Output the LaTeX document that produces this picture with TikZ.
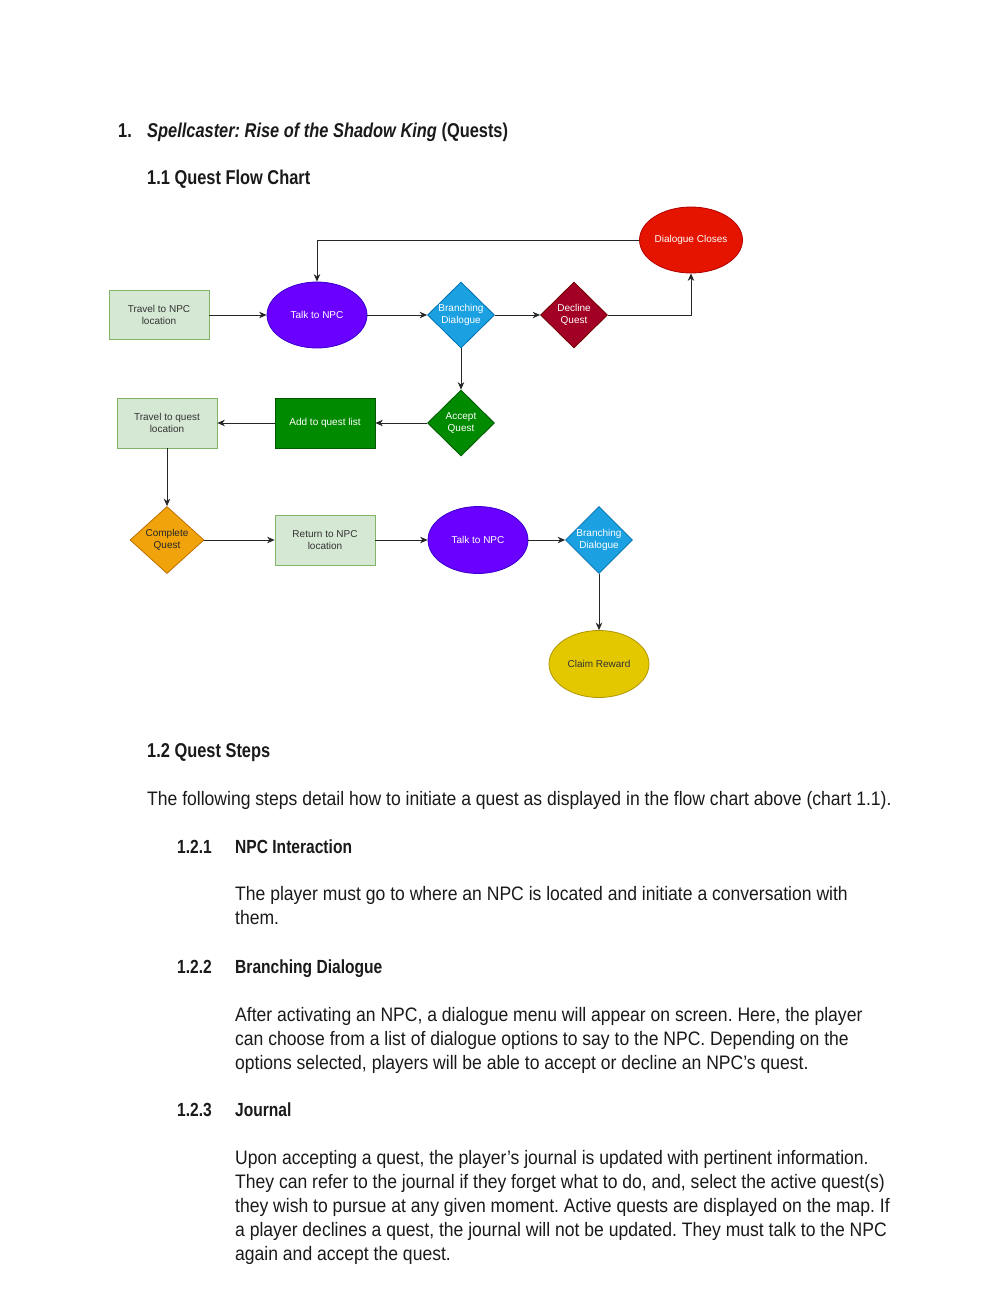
\documentclass[tikz,border=0pt]{standalone}
\usepackage{fontspec}
\setmainfont{Liberation Sans}[FakeStretch=0.82]
\newfontfamily\bodyfont{Liberation Sans}[FakeStretch=0.9]
\newfontfamily\nodefont{Liberation Sans}
\usetikzlibrary{shapes.geometric,arrows.meta}
\definecolor{lgfill}{HTML}{D5E8D4}
\definecolor{lgline}{HTML}{82B366}
\definecolor{purfill}{HTML}{6A00FF}
\definecolor{purline}{HTML}{3700CC}
\definecolor{bluefill}{HTML}{1BA1E2}
\definecolor{blueline}{HTML}{006EAF}
\definecolor{redfill}{HTML}{A20025}
\definecolor{redline}{HTML}{6F0000}
\definecolor{brfill}{HTML}{E51400}
\definecolor{brline}{HTML}{B20000}
\definecolor{grfill}{HTML}{008A00}
\definecolor{grline}{HTML}{005700}
\definecolor{amfill}{HTML}{F0A30A}
\definecolor{amline}{HTML}{BD7000}
\definecolor{yefill}{HTML}{E3C800}
\definecolor{yeline}{HTML}{B09500}
\definecolor{txt}{HTML}{1A1A1A}
\frenchspacing
\tikzset{
  nd/.style={inner sep=0pt, font=\nodefont\fontsize{10}{12}\selectfont, align=center, line width=0.8pt},
  lbox/.style={nd, rectangle, minimum width=100pt, minimum height=49pt, fill=lgfill, draw=lgline, text=black!80},
  ell/.style={nd, ellipse, minimum width=100pt, minimum height=66pt},
  dia/.style={nd, diamond, minimum width=67pt, minimum height=66pt},
  arr/.style={draw=black!85, line width=0.8pt, -{Stealth[length=7.5pt,width=6.5pt]}},
  hd/.style={anchor=base west, inner sep=0pt, font=\bfseries\fontsize{20}{24}\selectfont, text=txt},
  hdb/.style={hd, font=\bfseries\fontsize{19}{24}\selectfont},
  bd/.style={anchor=base west, inner sep=0pt, font=\bodyfont\fontsize{19.5}{24}\selectfont\frenchspacing, text=txt}
}
\begin{document}
\begin{tikzpicture}[x=1pt,y=-1pt]
\useasboundingbox[fill=white] (0,0) rectangle (1000,1294);

% headings and text
\node[hd] (title) at (118,137) {\makebox[29pt][l]{1.}\textit{Spellcaster: Rise of the Shadow King} (Quests)};
\node[hd] (h11) at (147,184) {1.1 Quest Flow Chart};
\node[hd] (h12) at (147,757) {1.2 Quest Steps};
\node[bd] (p0) at (147,805) {The following steps detail how to initiate a quest as displayed in the flow chart above (chart 1.1).};
\node[hdb] (h121) at (177,853) {\makebox[58pt][l]{1.2.1}NPC Interaction};
\node[bd] (p1a) at (235,900) {The player must go to where an NPC is located and initiate a conversation with};
\node[bd] (p1b) at (235,924) {them.};
\node[hdb] (h122) at (177,973) {\makebox[58pt][l]{1.2.2}Branching Dialogue};
\node[bd] (p2a) at (235,1021) {After activating an NPC, a dialogue menu will appear on screen. Here, the player};
\node[bd] (p2b) at (235,1045) {can choose from a list of dialogue options to say to the NPC. Depending on the};
\node[bd] (p2c) at (235,1069) {options selected, players will be able to accept or decline an NPC’s quest.};
\node[hdb] (h123) at (177,1116) {\makebox[58pt][l]{1.2.3}Journal};
\node[bd] (p3a) at (235,1164) {Upon accepting a quest, the player’s journal is updated with pertinent information.};
\node[bd] (p3b) at (235,1188) {They can refer to the journal if they forget what to do, and, select the active quest(s)};
\node[bd] (p3c) at (235,1212) {they wish to pursue at any given moment. Active quests are displayed on the map. If};
\node[bd] (p3d) at (235,1236) {a player declines a quest, the journal will not be updated. They must talk to the NPC};
\node[bd] (p3e) at (235,1260) {again and accept the quest.};

% flow chart nodes
\node[lbox] (tnpc) at (159,315) {Travel to NPC\\location};
\node[ell, fill=purfill, draw=purline, text=white] (talk1) at (317,315) {Talk to NPC};
\node[dia, fill=bluefill, draw=blueline, label={[nd, text=white]center:Branching\\Dialogue}] (br1) at (461,315) {};
\node[dia, fill=redfill, draw=redline, label={[nd, text=white]center:Decline\\Quest}] (dec) at (574,315) {};
\node[ell, fill=brfill, draw=brline, text=white] (dclose) at (691,240) {Dialogue Closes};
\node[dia, fill=grfill, draw=grline, label={[nd, text=white]center:Accept\\Quest}] (acc) at (461,423) {};
\node[nd, rectangle, minimum width=100pt, minimum height=50pt, fill=grfill, draw=grline, text=white] (add) at (325,423) {Add to quest list};
\node[lbox, minimum height=50pt] (tq) at (167,423) {Travel to quest\\location};
\node[dia, minimum width=74pt, minimum height=67pt, fill=amfill, draw=amline, label={[nd, text=black!85]center:Complete\\Quest}] (comp) at (167,540) {};
\node[lbox, minimum height=50pt] (ret) at (325,540) {Return to NPC\\location};
\node[ell, minimum height=67pt, fill=purfill, draw=purline, text=white] (talk2) at (478,540) {Talk to NPC};
\node[dia, minimum height=67pt, fill=bluefill, draw=blueline, label={[nd, text=white]center:Branching\\Dialogue}] (br2) at (599,540) {};
\node[ell, minimum height=67pt, fill=yefill, draw=yeline, text=black!80] (claim) at (599,664) {Claim Reward};

% connectors
\draw[arr] (tnpc) -- (talk1);
\draw[arr] (talk1) -- (br1);
\draw[arr] (br1) -- (dec);
\draw[arr] (dec.east) -| (dclose.south);
\draw[arr] (dclose.west) -| (talk1.north);
\draw[arr] (br1.south) -- (acc.north);
\draw[arr] (acc.west) -- (add.east);
\draw[arr] (add.west) -- (tq.east);
\draw[arr] (tq.south) -- (comp.north);
\draw[arr] (comp.east) -- (ret.west);
\draw[arr] (ret.east) -- (talk2.west);
\draw[arr] (talk2.east) -- (br2.west);
\draw[arr] (br2.south) -- (claim.north);
\end{tikzpicture}
\end{document}
